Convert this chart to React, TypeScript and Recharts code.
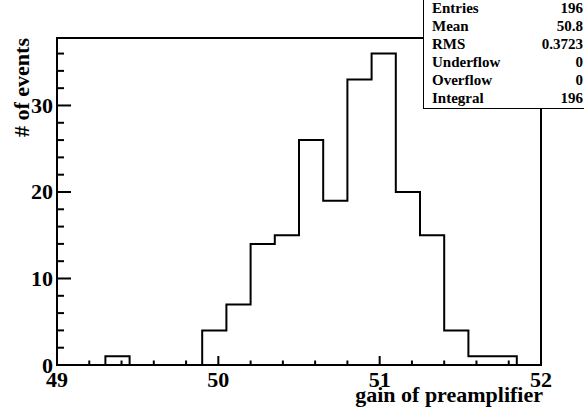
import React from 'react';
import { ComposedChart, Line, XAxis, YAxis, ReferenceArea } from 'recharts';

const binEdges = [49.0, 49.15, 49.3, 49.45, 49.6, 49.75, 49.9, 50.05, 50.2, 50.35, 50.5, 50.65, 50.8, 50.95, 51.1, 51.25, 51.4, 51.55, 51.7, 51.85, 52.0];
const binCounts = [0, 0, 1, 0, 0, 0, 4, 7, 14, 15, 26, 19, 33, 36, 20, 15, 4, 1, 1, 0];
const xTicks = [49, 49.2, 49.4, 49.6, 49.8, 50, 50.2, 50.4, 50.6, 50.8, 51, 51.2, 51.4, 51.6, 51.8, 52];
const xMajor = [49, 50, 51, 52];
const yTicks = [0, 2, 4, 6, 8, 10, 12, 14, 16, 18, 20, 22, 24, 26, 28, 30, 32, 34, 36];
const yMajor = [0, 10, 20, 30];
const yMax = 37.8;
const statsLabels = ['Entries', 'Mean', 'RMS', 'Underflow', 'Overflow', 'Integral'];
const statsValues = ['196', '50.8', '0.3723', '0', '0', '196'];
const xTitle = 'gain of preamplifier';
const yTitle = '# of events';

const FONT = "'Liberation Serif', 'Times New Roman', serif";

const data = binEdges.map((x, i) => ({
  x,
  y: i < binCounts.length ? binCounts[i] : binCounts[binCounts.length - 1],
}));

const isMajor = (v: number, majors: number[]) => majors.some((m) => Math.abs(m - v) < 1e-6);

const XTick = (props: any) => {
  const { x, y, payload } = props;
  const major = isMajor(payload.value, xMajor);
  const len = major ? 9 : 4.5;
  return (
    <g>
      <line x1={x} y1={y} x2={x} y2={y - len} stroke="#000" strokeWidth={2} />
      {major && (
        <text x={x} y={y + 22} textAnchor="middle" fontFamily={FONT} fontWeight="bold" fontSize={22} fill="#000">
          {payload.value}
        </text>
      )}
    </g>
  );
};

const YTick = (props: any) => {
  const { x, y, payload } = props;
  const major = isMajor(payload.value, yMajor);
  const len = major ? 14 : 7;
  return (
    <g>
      <line x1={x} y1={y} x2={x + len} y2={y} stroke="#000" strokeWidth={2} />
      {major && (
        <text x={x - 4} y={y + 7.5} textAnchor="end" fontFamily={FONT} fontWeight="bold" fontSize={22} fill="#000">
          {payload.value}
        </text>
      )}
    </g>
  );
};

const XTitle = () => (
  <text x={543} y={402} textAnchor="end" fontFamily={FONT} fontWeight="bold" fontSize={22} fill="#000">
    {xTitle}
  </text>
);

const YTitle = () => (
  <text
    x={29}
    y={38}
    transform="rotate(-90 29 38)"
    textAnchor="end"
    fontFamily={FONT}
    fontWeight="bold"
    fontSize={22}
    fill="#000"
  >
    {yTitle}
  </text>
);

export default function App() {
  return (
    <div style={{ position: 'absolute', left: 0, top: 0, width: 584, height: 414, overflow: 'hidden', background: '#fff' }}>
      <ComposedChart width={584} height={414} data={data} margin={{ top: 38, right: 43, bottom: 0, left: 0 }}>
        <XAxis
          type="number"
          dataKey="x"
          domain={[49, 52]}
          ticks={xTicks}
          interval={0}
          allowDataOverflow
          height={49}
          axisLine={false}
          tickLine={false}
          tickSize={0}
          tickMargin={0}
          tick={(p: any) => <XTick {...p} />}
          label={() => <XTitle />}
        />
        <YAxis
          type="number"
          domain={[0, yMax]}
          ticks={yTicks}
          interval={0}
          allowDataOverflow
          width={57}
          axisLine={false}
          tickLine={false}
          tickSize={0}
          tickMargin={0}
          tick={(p: any) => <YTick {...p} />}
          label={() => <YTitle />}
        />
        <ReferenceArea x1={49} x2={52} y1={0} y2={yMax} fill="none" fillOpacity={0} stroke="#000" strokeWidth={2} ifOverflow="visible" />
        <Line
          type="stepAfter"
          dataKey="y"
          stroke="#000"
          strokeWidth={2}
          dot={false}
          activeDot={false}
          isAnimationActive={false}
        />
      </ComposedChart>
      <div
        style={{
          position: 'absolute',
          left: 423,
          top: -2,
          width: 151,
          height: 109,
          paddingLeft: 8,
          paddingRight: 30,
          border: '1px solid #000',
          background: '#fff',
          fontFamily: FONT,
          fontWeight: 'bold',
          fontSize: 15,
          lineHeight: '18px',
          color: '#000',
          boxSizing: 'content-box',
        }}
      >
        {statsLabels.map((lab, i) => (
          <div key={lab} style={{ display: 'flex', justifyContent: 'space-between', height: 18 }}>
            <span>{lab}</span>
            <span>{statsValues[i]}</span>
          </div>
        ))}
      </div>
    </div>
  );
}
